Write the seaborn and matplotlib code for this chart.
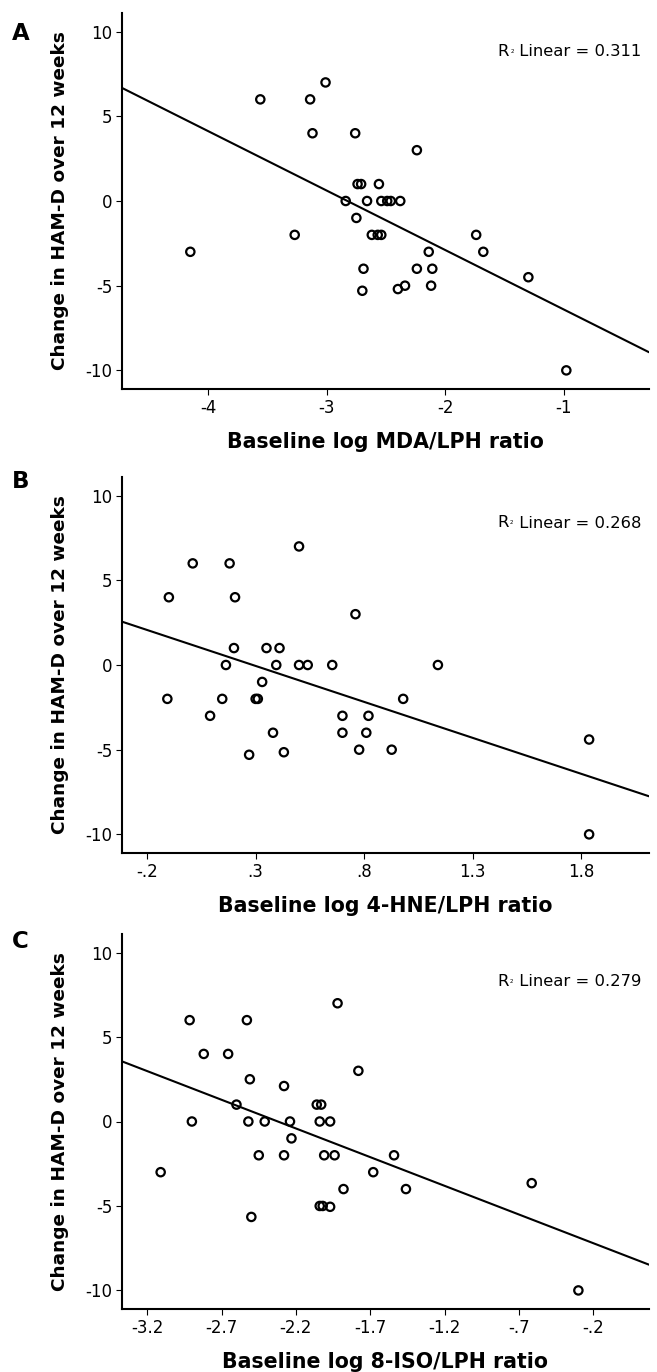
import matplotlib
matplotlib.use("Agg")
from matplotlib import pyplot as plt
import seaborn as sns
import pandas as pd

# panel A: baseline log MDA/LPH
mda_x = [-3.56, -3.14, -3.01, -3.12, -2.76, -2.24, -2.74, -2.71, -2.56, -2.84, -2.66,
         -2.54, -2.49, -2.46, -2.38, -2.75, -3.27, -2.62, -2.57, -2.54, -1.74, -4.15,
         -2.14, -1.68, -2.69, -2.24, -2.11, -2.70, -2.40, -2.34, -2.12, -1.30, -0.98]
mda_y = [6, 6, 7, 4, 4, 3, 1, 1, 1, 0, 0,
         0, 0, 0, 0, -1, -2, -2, -2, -2, -2, -3,
         -3, -3, -4, -4, -4, -5.3, -5.2, -5, -5, -4.5, -10]

# panel B: baseline log 4-HNE/LPH
hne_x = [-0.10, 0.01, 0.18, 0.205, 0.50, 0.76, 0.20, 0.35, 0.41, 0.163, 0.395,
         0.50, 0.54, 0.653, 1.14, 0.33, -0.107, 0.146, 0.30, 0.31, 0.98, 0.09,
         0.70, 0.82, 0.38, 0.70, 0.81, 0.27, 0.43, 0.777, 0.927, 1.837, 1.837]
hne_y = [4, 6, 6, 4, 7, 3, 1, 1, 1, 0, 0,
         0, 0, 0, 0, -1, -2, -2, -2, -2, -2, -3,
         -3, -3, -4, -4, -4, -5.3, -5.15, -5, -5, -4.4, -10]

# panel C: baseline log 8-ISO/LPH
iso_x = [-2.915, -2.53, -2.82, -2.656, -2.51, -2.28, -1.92, -1.78, -2.60, -2.06, -2.03,
         -2.90, -2.52, -2.41, -2.24, -2.04, -1.97, -2.23, -2.45, -2.28, -2.01, -1.94,
         -1.54, -3.11, -1.68, -1.88, -1.46, -2.04, -2.02, -1.97, -2.50, -0.614, -0.30]
iso_y = [6, 6, 4, 4, 2.5, 2.1, 7, 3, 1, 1, 1,
         0, 0, 0, 0, 0, 0, -1, -2, -2, -2, -2,
         -2, -3, -3, -4, -4, -5, -5, -5.05, -5.65, -3.65, -10]

y_ticks = [10, 5, 0, -5, -10]
y_tick_labels = ["10", "5", "0", "-5", "-10"]
mda_ticks = [-4, -3, -2, -1]
mda_tick_labels = ["-4", "-3", "-2", "-1"]
hne_ticks = [-0.2, 0.3, 0.8, 1.3, 1.8]
hne_tick_labels = ["-.2", ".3", ".8", "1.3", "1.8"]
iso_ticks = [-3.2, -2.7, -2.2, -1.7, -1.2, -0.7, -0.2]
iso_tick_labels = ["-3.2", "-2.7", "-2.2", "-1.7", "-1.2", "-.7", "-.2"]

panel_letters = ["A", "B", "C"]
r2_values = ["0.311", "0.268", "0.279"]
x_titles = ["Baseline log MDA/LPH ratio", "Baseline log 4-HNE/LPH ratio",
            "Baseline log 8-ISO/LPH ratio"]
y_title = "Change in HAM-D over 12 weeks"

W, H = 657, 1372


def panel(fig, rect, x, y, xlim, ticks, tick_labels, xtitle, letter, letter_y, r2, r2_y):
    ax = fig.add_axes(rect)
    ax.set_xlim(xlim)
    ax.set_ylim(-11.1, 11.1)
    df = pd.DataFrame({"x": x, "y": y})
    sns.regplot(data=df, x="x", y="y", ax=ax, ci=None, truncate=False, marker="o",
                scatter_kws=dict(facecolors="none", edgecolors="black", s=36,
                                 linewidths=1.6, alpha=1),
                line_kws=dict(color="black", lw=1.5))
    ax.set_xlim(xlim)
    ax.set_ylim(-11.1, 11.1)
    ax.set_xticks(ticks)
    ax.set_xticklabels(tick_labels)
    ax.set_yticks(y_ticks)
    ax.set_yticklabels(y_tick_labels)
    ax.tick_params(labelsize=12, length=4.5, width=0.8, color="black",
                   labelcolor="black", pad=2.5)
    sns.despine(ax=ax)
    for s in ["left", "bottom"]:
        ax.spines[s].set_linewidth(1.5)
        ax.spines[s].set_color("black")
    ax.set_xlabel(xtitle, fontsize=14.8, fontweight="bold", va="center", color="black")
    ax.xaxis.set_label_coords(0.5, -53 / 376)
    ax.set_ylabel(y_title, fontsize=13.3, fontweight="bold", va="center", color="black")
    ax.yaxis.set_label_coords(-62 / 527, 0.5)

    fig.text(12 / W, 1 - letter_y / H, letter, ha="left", va="center",
             fontsize=16.5, fontweight="bold", color="black")
    t = fig.text(641 / W, 1 - r2_y / H, " Linear = " + r2, ha="right", va="center",
                 fontsize=11.8, color="black")
    sup = ax.annotate("2", xy=(0, 0.55), xycoords=t, ha="right", va="center",
                      fontsize=4, color="black")
    ax.annotate("R", xy=(-0.3, 0.5), xycoords=sup, ha="right", va="center",
                fontsize=11.8, color="black")
    return ax


def main():
    sns.set_style("ticks")
    plt.rcParams["font.family"] = ["DejaVu Sans"]
    plt.rcParams["axes.unicode_minus"] = False
    plt.rcParams["text.color"] = "black"

    fig = plt.figure(figsize=(W / 100, H / 100), dpi=100)
    left = 122 / W
    width = 527 / W
    panel(fig, [left, 1 - 389 / H, width, 376 / H], mda_x, mda_y, (-4.726, -0.283),
          mda_ticks, mda_tick_labels, x_titles[0], panel_letters[0], 33, r2_values[0], 52)
    panel(fig, [left, 1 - 853 / H, width, 376 / H], hne_x, hne_y, (-0.316, 2.113),
          hne_ticks, hne_tick_labels, x_titles[1], panel_letters[1], 481, r2_values[1], 523)
    panel(fig, [left, 1 - 1309 / H, width, 375 / H], iso_x, iso_y, (-3.37, 0.175),
          iso_ticks, iso_tick_labels, x_titles[2], panel_letters[2], 941, r2_values[2], 982)
    fig.savefig("out.png", dpi=100)


if __name__ == "__main__":
    main()
